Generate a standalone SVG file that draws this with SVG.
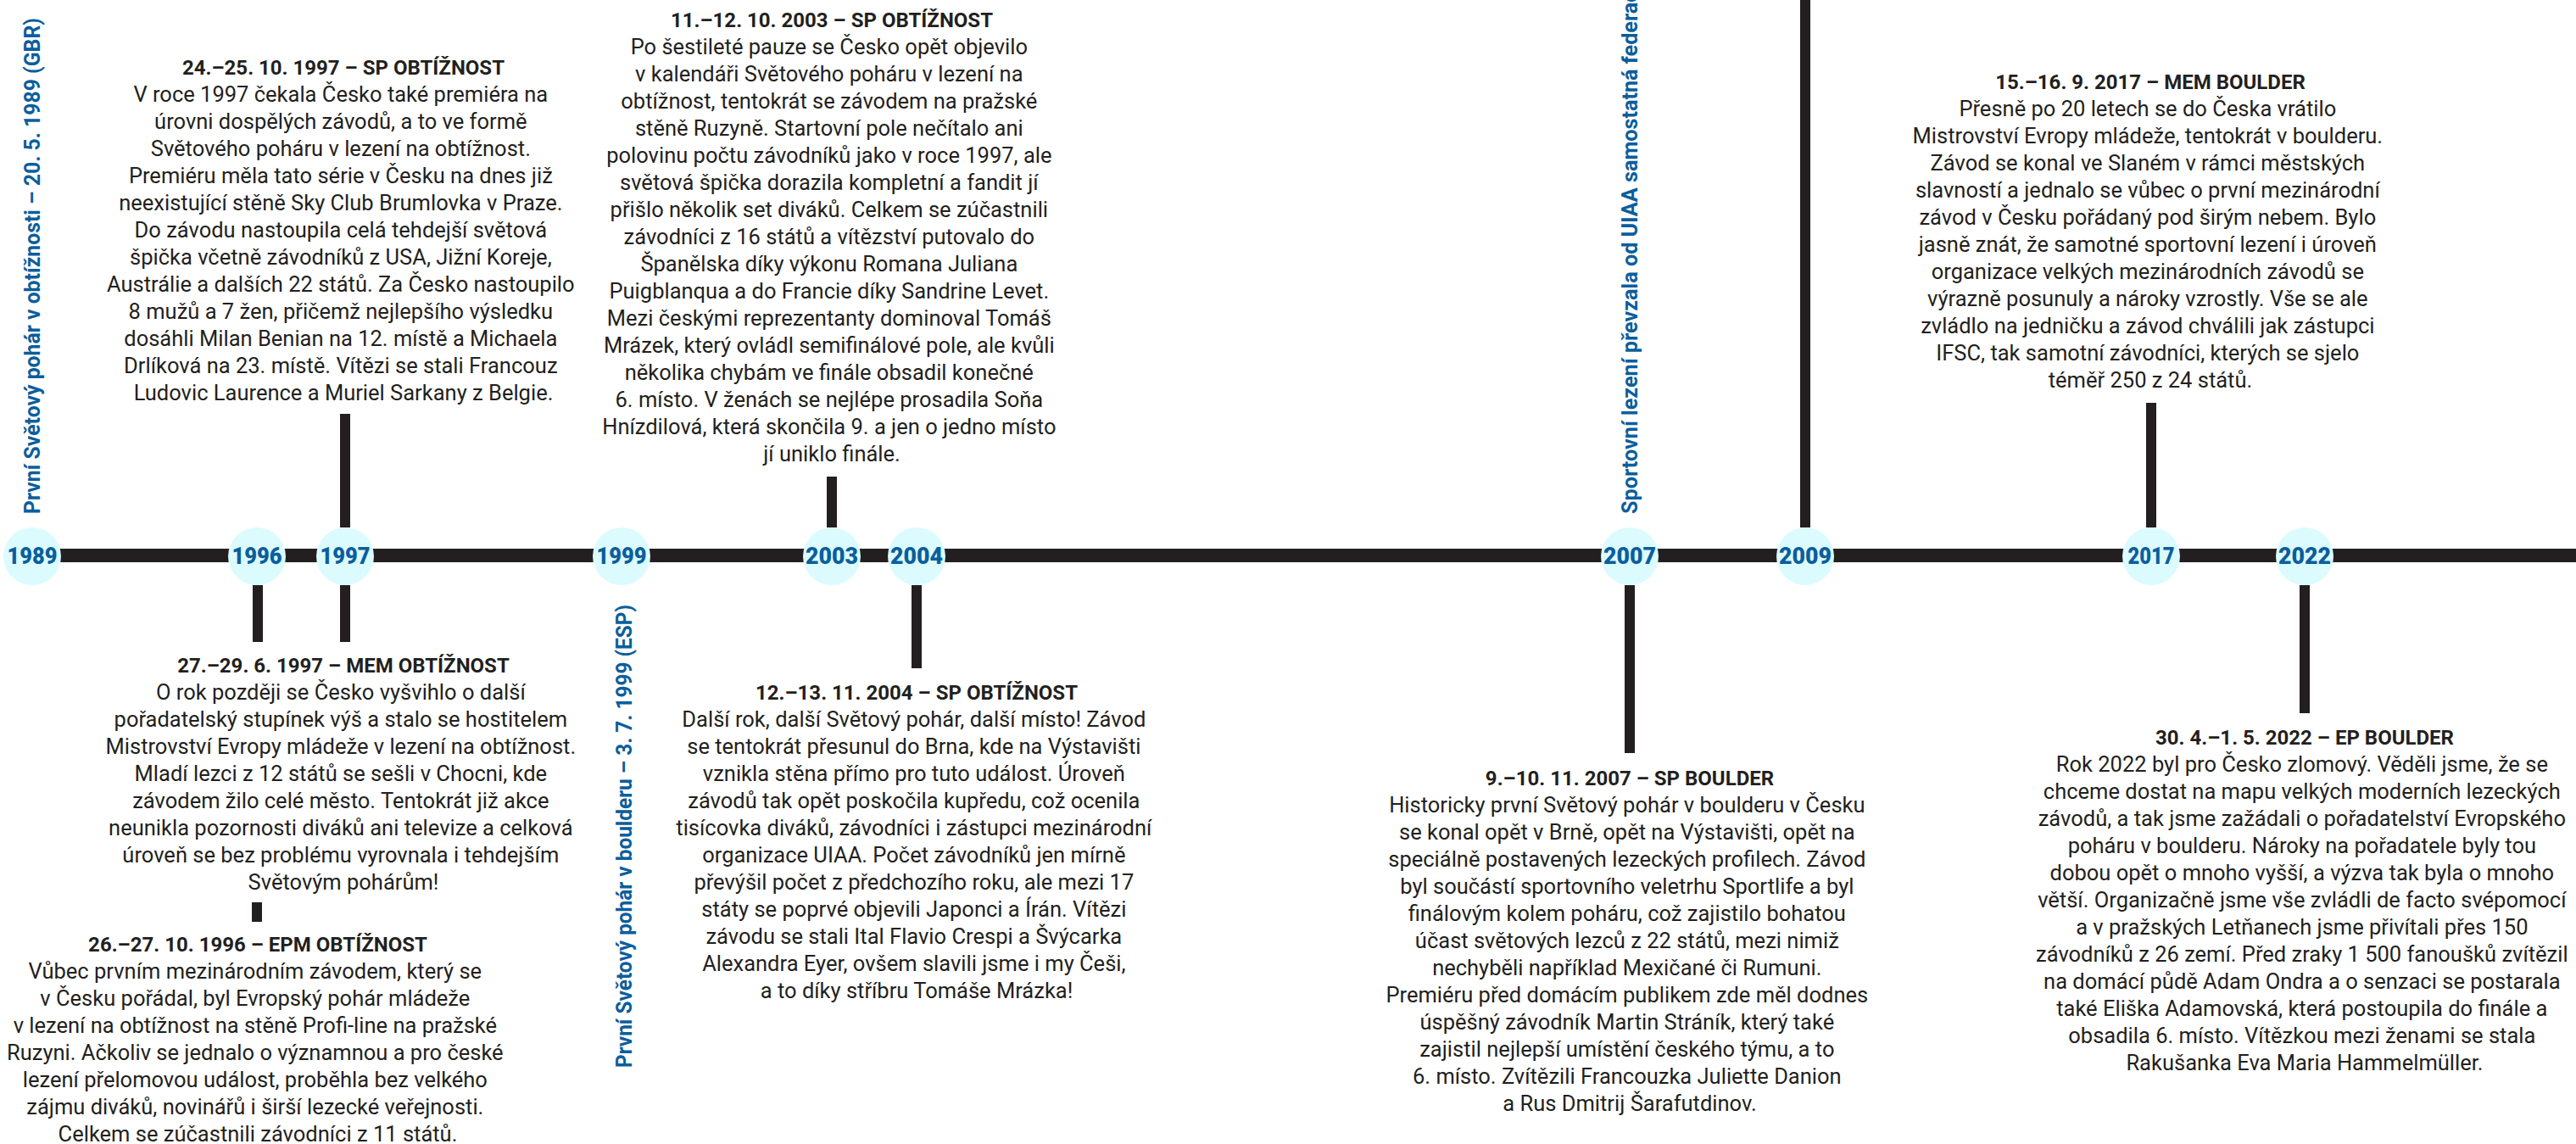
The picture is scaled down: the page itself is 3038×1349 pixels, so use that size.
<svg xmlns="http://www.w3.org/2000/svg" width="3038" height="1349" viewBox="0 0 3038 1349">
<style>
.bg{fill:#ffffff}
.ln{stroke:#231f20;stroke-width:12;fill:none}
.main{stroke:#231f20;stroke-width:16;fill:none}
.yc{fill:#dcfbfe}
.yt{font-family:Roboto,"Liberation Sans",sans-serif;font-weight:900;font-size:27px;fill:#0b5e9c;text-anchor:middle}
.vl{font-family:Roboto,"Liberation Sans",sans-serif;font-weight:700;font-size:26px;fill:#0b5e9c}
.ti{font-family:Roboto,"Liberation Sans",sans-serif;font-weight:700;font-size:24px;fill:#231f20;text-anchor:middle}
.bd{font-family:Roboto,"Liberation Sans",sans-serif;font-weight:400;font-size:25.5px;fill:#231f20;text-anchor:middle}
</style>
<rect class="bg" x="0" y="0" width="3038" height="1349"/>

<g id="connectors">
  <line class="main" x1="38" y1="655" x2="3038" y2="655"/>
  <line class="ln" x1="407" y1="488" x2="407" y2="622"/>
  <line class="ln" x1="981" y1="562" x2="981" y2="622"/>
  <line class="ln" x1="2129" y1="0" x2="2129" y2="622"/>
  <line class="ln" x1="2537" y1="475" x2="2537" y2="622"/>
  <line class="ln" x1="304" y1="690" x2="304" y2="757"/>
  <line class="ln" x1="407" y1="690" x2="407" y2="757"/>
  <line class="ln" x1="303" y1="1064" x2="303" y2="1087"/>
  <line class="ln" x1="1081" y1="690" x2="1081" y2="788"/>
  <line class="ln" x1="1922" y1="690" x2="1922" y2="888"/>
  <line class="ln" x1="2718" y1="690" x2="2718" y2="841"/>
</g>

<g id="year-1989"><circle class="yc" cx="38" cy="656" r="34"/><text class="yt" x="38" y="665" textLength="59" lengthAdjust="spacingAndGlyphs">1989</text></g>
<g id="year-1996"><circle class="yc" cx="303" cy="656" r="34"/><text class="yt" x="303" y="665" textLength="59" lengthAdjust="spacingAndGlyphs">1996</text></g>
<g id="year-1997"><circle class="yc" cx="407" cy="656" r="34"/><text class="yt" x="407" y="665" textLength="59" lengthAdjust="spacingAndGlyphs">1997</text></g>
<g id="year-1999"><circle class="yc" cx="733" cy="656" r="34"/><text class="yt" x="733" y="665" textLength="59" lengthAdjust="spacingAndGlyphs">1999</text></g>
<g id="year-2003"><circle class="yc" cx="981" cy="656" r="34"/><text class="yt" x="981" y="665" textLength="62" lengthAdjust="spacingAndGlyphs">2003</text></g>
<g id="year-2004"><circle class="yc" cx="1081" cy="656" r="34"/><text class="yt" x="1081" y="665" textLength="62" lengthAdjust="spacingAndGlyphs">2004</text></g>
<g id="year-2007"><circle class="yc" cx="1922" cy="656" r="34"/><text class="yt" x="1922" y="665" textLength="62" lengthAdjust="spacingAndGlyphs">2007</text></g>
<g id="year-2009"><circle class="yc" cx="2129" cy="656" r="34"/><text class="yt" x="2129" y="665" textLength="62" lengthAdjust="spacingAndGlyphs">2009</text></g>
<g id="year-2017"><circle class="yc" cx="2537" cy="656" r="34"/><text class="yt" x="2537" y="665" textLength="55" lengthAdjust="spacingAndGlyphs">2017</text></g>
<g id="year-2022"><circle class="yc" cx="2718" cy="656" r="34"/><text class="yt" x="2718" y="665" textLength="62" lengthAdjust="spacingAndGlyphs">2022</text></g>

<g id="label-1989"><text class="vl" transform="translate(47,606) rotate(-90)" textLength="585" lengthAdjust="spacingAndGlyphs">První Světový pohár v obtížnosti – 20. 5. 1989 (GBR)</text></g>
<g id="label-1999"><text class="vl" transform="translate(745,1259) rotate(-90)" textLength="546" lengthAdjust="spacingAndGlyphs">První Světový pohár v boulderu – 3. 7. 1999 (ESP)</text></g>
<g id="label-2007"><text class="vl" transform="translate(1931,606) rotate(-90)" textLength="630" lengthAdjust="spacingAndGlyphs">Sportovní lezení převzala od UIAA samostatná federace</text></g>

<g id="event-1997-sp">
  <text class="ti" x="405" y="88">24.–25. 10. 1997 – SP OBTÍŽNOST</text>
  <text class="bd">
    <tspan x="405" y="120">V roce 1997 čekala Česko také premiéra na</tspan>
    <tspan x="405" dy="32">úrovni dospělých závodů, a to ve formě</tspan>
    <tspan x="405" dy="32">Světového poháru v lezení na obtížnost.</tspan>
    <tspan x="405" dy="32">Premiéru měla tato série v Česku na dnes již</tspan>
    <tspan x="405" dy="32">neexistující stěně Sky Club Brumlovka v Praze.</tspan>
    <tspan x="405" dy="32">Do závodu nastoupila celá tehdejší světová</tspan>
    <tspan x="405" dy="32">špička včetně závodníků z USA, Jižní Koreje,</tspan>
    <tspan x="405" dy="32">Austrálie a dalších 22 států. Za Česko nastoupilo</tspan>
    <tspan x="405" dy="32">8 mužů a 7 žen, přičemž nejlepšího výsledku</tspan>
    <tspan x="405" dy="32">dosáhli Milan Benian na 12. místě a Michaela</tspan>
    <tspan x="405" dy="32">Drlíková na 23. místě. Vítězi se stali Francouz</tspan>
    <tspan x="405" dy="32">Ludovic Laurence a Muriel Sarkany z Belgie.</tspan>
  </text>
</g>

<g id="event-2003-sp">
  <text class="ti" x="981" y="32">11.–12. 10. 2003 – SP OBTÍŽNOST</text>
  <text class="bd">
    <tspan x="981" y="64">Po šestileté pauze se Česko opět objevilo</tspan>
    <tspan x="981" dy="32">v kalendáři Světového poháru v lezení na</tspan>
    <tspan x="981" dy="32">obtížnost, tentokrát se závodem na pražské</tspan>
    <tspan x="981" dy="32">stěně Ruzyně. Startovní pole nečítalo ani</tspan>
    <tspan x="981" dy="32">polovinu počtu závodníků jako v roce 1997, ale</tspan>
    <tspan x="981" dy="32">světová špička dorazila kompletní a fandit jí</tspan>
    <tspan x="981" dy="32">přišlo několik set diváků. Celkem se zúčastnili</tspan>
    <tspan x="981" dy="32">závodníci z 16 států a vítězství putovalo do</tspan>
    <tspan x="981" dy="32">Španělska díky výkonu Romana Juliana</tspan>
    <tspan x="981" dy="32">Puigblanqua a do Francie díky Sandrine Levet.</tspan>
    <tspan x="981" dy="32">Mezi českými reprezentanty dominoval Tomáš</tspan>
    <tspan x="981" dy="32">Mrázek, který ovládl semifinálové pole, ale kvůli</tspan>
    <tspan x="981" dy="32">několika chybám ve finále obsadil konečné</tspan>
    <tspan x="981" dy="32">6. místo. V ženách se nejlépe prosadila Soňa</tspan>
    <tspan x="981" dy="32">Hnízdilová, která skončila 9. a jen o jedno místo</tspan>
    <tspan x="981" dy="32">jí uniklo finále.</tspan>
  </text>
</g>

<g id="event-1997-mem">
  <text class="ti" x="405" y="793">27.–29. 6. 1997 – MEM OBTÍŽNOST</text>
  <text class="bd">
    <tspan x="405" y="825">O rok později se Česko vyšvihlo o další</tspan>
    <tspan x="405" dy="32">pořadatelský stupínek výš a stalo se hostitelem</tspan>
    <tspan x="405" dy="32">Mistrovství Evropy mládeže v lezení na obtížnost.</tspan>
    <tspan x="405" dy="32">Mladí lezci z 12 států se sešli v Chocni, kde</tspan>
    <tspan x="405" dy="32">závodem žilo celé město. Tentokrát již akce</tspan>
    <tspan x="405" dy="32">neunikla pozornosti diváků ani televize a celková</tspan>
    <tspan x="405" dy="32">úroveň se bez problému vyrovnala i tehdejším</tspan>
    <tspan x="405" dy="32">Světovým pohárům!</tspan>
  </text>
</g>

<g id="event-1996-epm">
  <text class="ti" x="304" y="1122">26.–27. 10. 1996 – EPM OBTÍŽNOST</text>
  <text class="bd">
    <tspan x="304" y="1154">Vůbec prvním mezinárodním závodem, který se</tspan>
    <tspan x="304" dy="32">v Česku pořádal, byl Evropský pohár mládeže</tspan>
    <tspan x="304" dy="32">v lezení na obtížnost na stěně Profi-line na pražské</tspan>
    <tspan x="304" dy="32">Ruzyni. Ačkoliv se jednalo o významnou a pro české</tspan>
    <tspan x="304" dy="32">lezení přelomovou událost, proběhla bez velkého</tspan>
    <tspan x="304" dy="32">zájmu diváků, novinářů i širší lezecké veřejnosti.</tspan>
    <tspan x="304" dy="32">Celkem se zúčastnili závodníci z 11 států.</tspan>
  </text>
</g>

<g id="event-2004-sp">
  <text class="ti" x="1081" y="825">12.–13. 11. 2004 – SP OBTÍŽNOST</text>
  <text class="bd">
    <tspan x="1081" y="857">Další rok, další Světový pohár, další místo! Závod</tspan>
    <tspan x="1081" dy="32">se tentokrát přesunul do Brna, kde na Výstavišti</tspan>
    <tspan x="1081" dy="32">vznikla stěna přímo pro tuto událost. Úroveň</tspan>
    <tspan x="1081" dy="32">závodů tak opět poskočila kupředu, což ocenila</tspan>
    <tspan x="1081" dy="32">tisícovka diváků, závodníci i zástupci mezinárodní</tspan>
    <tspan x="1081" dy="32">organizace UIAA. Počet závodníků jen mírně</tspan>
    <tspan x="1081" dy="32">převýšil počet z předchozího roku, ale mezi 17</tspan>
    <tspan x="1081" dy="32">státy se poprvé objevili Japonci a Írán. Vítězi</tspan>
    <tspan x="1081" dy="32">závodu se stali Ital Flavio Crespi a Švýcarka</tspan>
    <tspan x="1081" dy="32">Alexandra Eyer, ovšem slavili jsme i my Češi,</tspan>
    <tspan x="1081" dy="32">a to díky stříbru Tomáše Mrázka!</tspan>
  </text>
</g>

<g id="event-2007-sp">
  <text class="ti" x="1922" y="926">9.–10. 11. 2007 – SP BOULDER</text>
  <text class="bd">
    <tspan x="1922" y="958">Historicky první Světový pohár v boulderu v Česku</tspan>
    <tspan x="1922" dy="32">se konal opět v Brně, opět na Výstavišti, opět na</tspan>
    <tspan x="1922" dy="32">speciálně postavených lezeckých profilech. Závod</tspan>
    <tspan x="1922" dy="32">byl součástí sportovního veletrhu Sportlife a byl</tspan>
    <tspan x="1922" dy="32">finálovým kolem poháru, což zajistilo bohatou</tspan>
    <tspan x="1922" dy="32">účast světových lezců z 22 států, mezi nimiž</tspan>
    <tspan x="1922" dy="32">nechyběli například Mexičané či Rumuni.</tspan>
    <tspan x="1922" dy="32">Premiéru před domácím publikem zde měl dodnes</tspan>
    <tspan x="1922" dy="32">úspěšný závodník Martin Stráník, který také</tspan>
    <tspan x="1922" dy="32">zajistil nejlepší umístění českého týmu, a to</tspan>
    <tspan x="1922" dy="32">6. místo. Zvítězili Francouzka Juliette Danion</tspan>
    <tspan x="1922" dy="32">a Rus Dmitrij Šarafutdinov.</tspan>
  </text>
</g>

<g id="event-2017-mem">
  <text class="ti" x="2536" y="105">15.–16. 9. 2017 – MEM BOULDER</text>
  <text class="bd">
    <tspan x="2536" y="137">Přesně po 20 letech se do Česka vrátilo</tspan>
    <tspan x="2536" dy="32">Mistrovství Evropy mládeže, tentokrát v boulderu.</tspan>
    <tspan x="2536" dy="32">Závod se konal ve Slaném v rámci městských</tspan>
    <tspan x="2536" dy="32">slavností a jednalo se vůbec o první mezinárodní</tspan>
    <tspan x="2536" dy="32">závod v Česku pořádaný pod širým nebem. Bylo</tspan>
    <tspan x="2536" dy="32">jasně znát, že samotné sportovní lezení i úroveň</tspan>
    <tspan x="2536" dy="32">organizace velkých mezinárodních závodů se</tspan>
    <tspan x="2536" dy="32">výrazně posunuly a nároky vzrostly. Vše se ale</tspan>
    <tspan x="2536" dy="32">zvládlo na jedničku a závod chválili jak zástupci</tspan>
    <tspan x="2536" dy="32">IFSC, tak samotní závodníci, kterých se sjelo</tspan>
    <tspan x="2536" dy="32">téměř 250 z 24 států.</tspan>
  </text>
</g>

<g id="event-2022-ep">
  <text class="ti" x="2718" y="878">30. 4.–1. 5. 2022 – EP BOULDER</text>
  <text class="bd">
    <tspan x="2718" y="910">Rok 2022 byl pro Česko zlomový. Věděli jsme, že se</tspan>
    <tspan x="2718" dy="32">chceme dostat na mapu velkých moderních lezeckých</tspan>
    <tspan x="2718" dy="32">závodů, a tak jsme zažádali o pořadatelství Evropského</tspan>
    <tspan x="2718" dy="32">poháru v boulderu. Nároky na pořadatele byly tou</tspan>
    <tspan x="2718" dy="32">dobou opět o mnoho vyšší, a výzva tak byla o mnoho</tspan>
    <tspan x="2718" dy="32">větší. Organizačně jsme vše zvládli de facto svépomocí</tspan>
    <tspan x="2718" dy="32">a v pražských Letňanech jsme přivítali přes 150</tspan>
    <tspan x="2718" dy="32">závodníků z 26 zemí. Před zraky 1 500 fanoušků zvítězil</tspan>
    <tspan x="2718" dy="32">na domácí půdě Adam Ondra a o senzaci se postarala</tspan>
    <tspan x="2718" dy="32">také Eliška Adamovská, která postoupila do finále a</tspan>
    <tspan x="2718" dy="32">obsadila 6. místo. Vítězkou mezi ženami se stala</tspan>
    <tspan x="2718" dy="32">Rakušanka Eva Maria Hammelmüller.</tspan>
  </text>
</g>
</svg>
